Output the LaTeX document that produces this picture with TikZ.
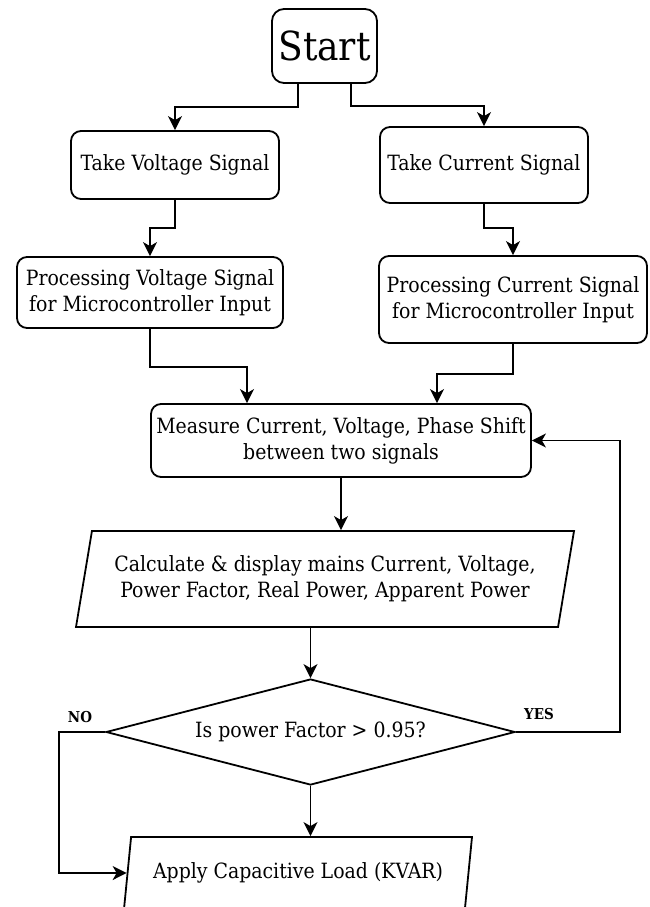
\documentclass[tikz,border=0pt]{standalone}
\usepackage{fontspec}
\setmainfont{DejaVu Serif Condensed}
\usetikzlibrary{shapes.geometric, arrows.meta, positioning, calc}
\tikzset{
	box/.style={draw, line width=1.8pt, rounded corners=10pt, align=center, inner sep=2pt, font=\fontsize{21}{26}\selectfont},
	io/.style={draw, line width=1.8pt, trapezium, trapezium left angle=71, trapezium right angle=109, trapezium stretches body, align=center, inner sep=0pt, font=\fontsize{21}{26}\selectfont},
	arr/.style={line width=1.8pt, -{Stealth[length=14pt,width=14pt,inset=4pt]}},
	lbl/.style={font=\bfseries\fontsize{15}{17}\selectfont},
}

\begin{document}
\begin{tikzpicture}[x=1pt,y=-1pt]
		\useasboundingbox (0,0) rectangle (650,907);
		
		\node[box, minimum width=105pt, minimum height=74pt, rounded corners=12pt, font=\fontsize{40}{44}\selectfont] (start) at (324.5,46) {Start};
		\node[box, minimum width=208pt, minimum height=68pt] (take-v) at (175,165) {Take Voltage Signal};
		\node[box, minimum width=208pt, minimum height=76pt] (take-i) at (484,165) {Take Current Signal};
		\node[box, minimum width=266pt, minimum height=71pt] (proc-v) at (150,292.5) {Processing Voltage Signal\\for Microcontroller Input};
		\node[box, minimum width=268pt, minimum height=87pt] (proc-i) at (513,299.5) {Processing Current Signal\\for Microcontroller Input};
		\node[box, minimum width=380pt, minimum height=73pt] (measure) at (341,440.5) {Measure Current, Voltage, Phase Shift\\between two signals};
		\node[io, minimum width=498pt, minimum height=96pt] (calc) at (325,579) {Calculate \& display mains Current, Voltage,\\Power Factor, Real Power, Apparent Power};
		\node[draw, line width=1.8pt, diamond, aspect=3.86, inner sep=0pt, minimum width=409pt, minimum height=106pt, font=\fontsize{21}{26}\selectfont] (pf) at (310.5,732) {Is power Factor > 0.95?};
		\node[io, minimum width=348pt, minimum height=72pt] (apply) at (298,873) {Apply Capacitive Load (KVAR)};
		
		\draw[arr] ($(start.south)+(-26.5,0)$) -- ++(0,23) -| (take-v.north);
		\draw[arr] ($(start.south)+(26.5,0)$) -- ++(0,22) -| (take-i.north);
		\draw[arr] (take-v.south) -- ++(0,28) -| (proc-v.north);
		\draw[arr] (take-i.south) -- ++(0,24) -| (proc-i.north);
		\draw[arr] (proc-v.south) -- ++(0,38) -| ($(measure.north)+(-94,0)$);
		\draw[arr] (proc-i.south) -- ++(0,30) -| ($(measure.north)+(96,0)$);
		\draw[arr] (measure.south) -- (measure.south |- calc.north);
		\draw[arr] (calc.south -| pf.north) -- (pf.north);
		\draw[arr] (pf.south) -- (pf.south |- apply.north);
		
		% Decision branches
		\draw[arr] (pf.east) -- ++(104,0) |- (measure.east);
		\draw[arr] (pf.west) -- ++(-46,0) |- (apply.west);
		\node[lbl] (yes) at (539,714) {YES};
		\node[lbl] (no) at (80,717) {NO};
	  \end{tikzpicture}
\end{document}
